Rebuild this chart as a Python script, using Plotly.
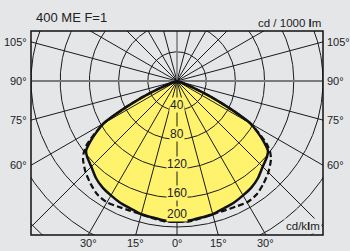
import numpy as np
import plotly.graph_objects as go

# ---- data (cd/1000 lm vs. gamma angle from nadir, symmetric) ----
gamma = [0, 5, 10, 15, 20, 25, 30, 35, 40, 45, 50, 52.5, 55, 57.5, 60, 62.5, 65, 67.5, 70, 72.5, 75, 90]
solid_cd = [193, 192, 190, 189, 186, 184, 181, 178, 173, 166, 161, 157, 145, 131, 116, 82, 52, 26, 9, 2, 0, 0]
dashed_cd = [193, 193, 191, 189, 189, 190, 192, 190, 184, 177, 168, 161, 150, 133, 116, 82, 52, 26, 9, 2, 0, 0]

ring_values = [40, 80, 120, 160, 200, 240, 280]
ring_labels = ["40", "80", "120", "160", "200"]
side_angles = [105, 90, 75, 60]
bottom_angles = [-30, -15, 0, 15, 30]
title = "400 ME F=1"

BG = "#e5e6e8"
YEL = "#fff36e"
FONT = "Liberation Sans"


def mirror(g, v):
    g = np.array(g, float)
    v = np.array(v, float)
    gg = np.concatenate([-g[::-1], g[1:]])
    vv = np.concatenate([v[::-1], v[1:]])
    return gg, vv


def to_xy(g_deg, r):
    t = np.radians(g_deg)
    return r * np.sin(t), -r * np.cos(t)


fig = go.Figure()

# yellow fill of the solid curve
gs, vs = mirror(gamma, solid_cd)
xs, ys = to_xy(gs, vs)
fig.add_trace(go.Scatter(x=xs, y=ys, mode="lines", fill="toself", fillcolor=YEL,
                         line=dict(width=0, shape="spline", smoothing=0.6), hoverinfo="skip"))

# grid circles
th = np.linspace(0, 360, 721)
for r in ring_values:
    cx, cy = to_xy(th, r)
    fig.add_trace(go.Scatter(x=cx, y=cy, mode="lines", line=dict(color="#1a1a1a", width=1),
                             hoverinfo="skip"))

# radial lines every 15 degrees
for a in range(0, 360, 15):
    if a in (90, 180, 270):
        continue
    lx, ly = to_xy(np.array([a, a]), np.array([0, 400]))
    fig.add_trace(go.Scatter(x=lx, y=ly, mode="lines", line=dict(color="#1a1a1a", width=1),
                             hoverinfo="skip"))
# horizontal 90-270 line and upper vertical (gray, heavier)
lx, ly = to_xy(np.array([-90, 90]), np.array([400, 400]))
fig.add_trace(go.Scatter(x=lx, y=ly, mode="lines", line=dict(color="#7a7a7a", width=2), hoverinfo="skip"))
lx, ly = to_xy(np.array([180, 180]), np.array([0, 400]))
fig.add_trace(go.Scatter(x=lx, y=ly, mode="lines", line=dict(color="#7a7a7a", width=1.5), hoverinfo="skip"))

# curves
gd, vd = mirror(gamma, dashed_cd)
xd, yd = to_xy(gd, vd)
fig.add_trace(go.Scatter(x=xd, y=yd, mode="lines",
                         line=dict(color="#111", width=2.2, dash="6px,3px", shape="spline", smoothing=0.6),
                         hoverinfo="skip"))
fig.add_trace(go.Scatter(x=xs, y=ys, mode="lines",
                         line=dict(color="#111", width=2.5, shape="spline", smoothing=0.6),
                         hoverinfo="skip"))

ann = []
for lab in ring_labels:
    r = float(lab)
    ann.append(dict(x=0, y=-r, xref="x", yref="y", text=lab, showarrow=False,
                    yanchor="bottom", xanchor="center", bgcolor=YEL, borderpad=0,
                    yshift=5 if lab == "200" else -3,
                    font=dict(size=12, color="#222", family=FONT)))

for a in side_angles:
    yv = 200 * np.tan(np.radians(a - 90))
    for side in (0, 1):
        ann.append(dict(x=side, y=yv, xref="paper", yref="y", text=f"{a}°", showarrow=False,
                        xanchor="right" if side == 0 else "left", yanchor="middle",
                        xshift=-2 if side == 0 else 2,
                        font=dict(size=11, color="#222", family=FONT)))
for a in bottom_angles:
    xv = 211 * np.tan(np.radians(a))
    ann.append(dict(x=xv, y=0, xref="x", yref="paper", text=f"{abs(a)}°", showarrow=False,
                    xanchor="center", yanchor="top", yshift=0,
                    font=dict(size=11, color="#222", family=FONT)))

ann.append(dict(x=0, y=1, xref="paper", yref="paper", text=title, showarrow=False,
                xanchor="left", yanchor="bottom", xshift=3, yshift=4,
                font=dict(size=13, color="#222", family=FONT)))
ann.append(dict(x=1, y=1, xref="paper", yref="paper", text="cd / 1000 <b>l</b>m", showarrow=False,
                xanchor="right", yanchor="bottom", xshift=0, yshift=0,
                font=dict(size=11.5, color="#222", family=FONT)))
ann.append(dict(x=1, y=0, xref="paper", yref="paper", text="cd/k<b>l</b>m", showarrow=False,
                xanchor="right", yanchor="bottom", xshift=-1, yshift=1, bgcolor=BG,
                font=dict(size=11.5, color="#222", family=FONT)))

fig.update_layout(
    width=350, height=251,
    margin=dict(l=31, r=27, t=31, b=16),
    paper_bgcolor=BG, plot_bgcolor=BG,
    showlegend=False,
    xaxis=dict(range=[-200, 200], visible=False, fixedrange=True),
    yaxis=dict(range=[-211, 68.5], visible=False, fixedrange=True),
    annotations=ann,
    shapes=[dict(type="rect", xref="paper", yref="paper", x0=0, y0=0, x1=1, y1=1,
                 line=dict(color="#111", width=1.5))],
)

fig.write_html("out.html", config={"displayModeBar": False},
               post_script="document.body.style.margin='0';document.body.style.background='%s';" % BG)
